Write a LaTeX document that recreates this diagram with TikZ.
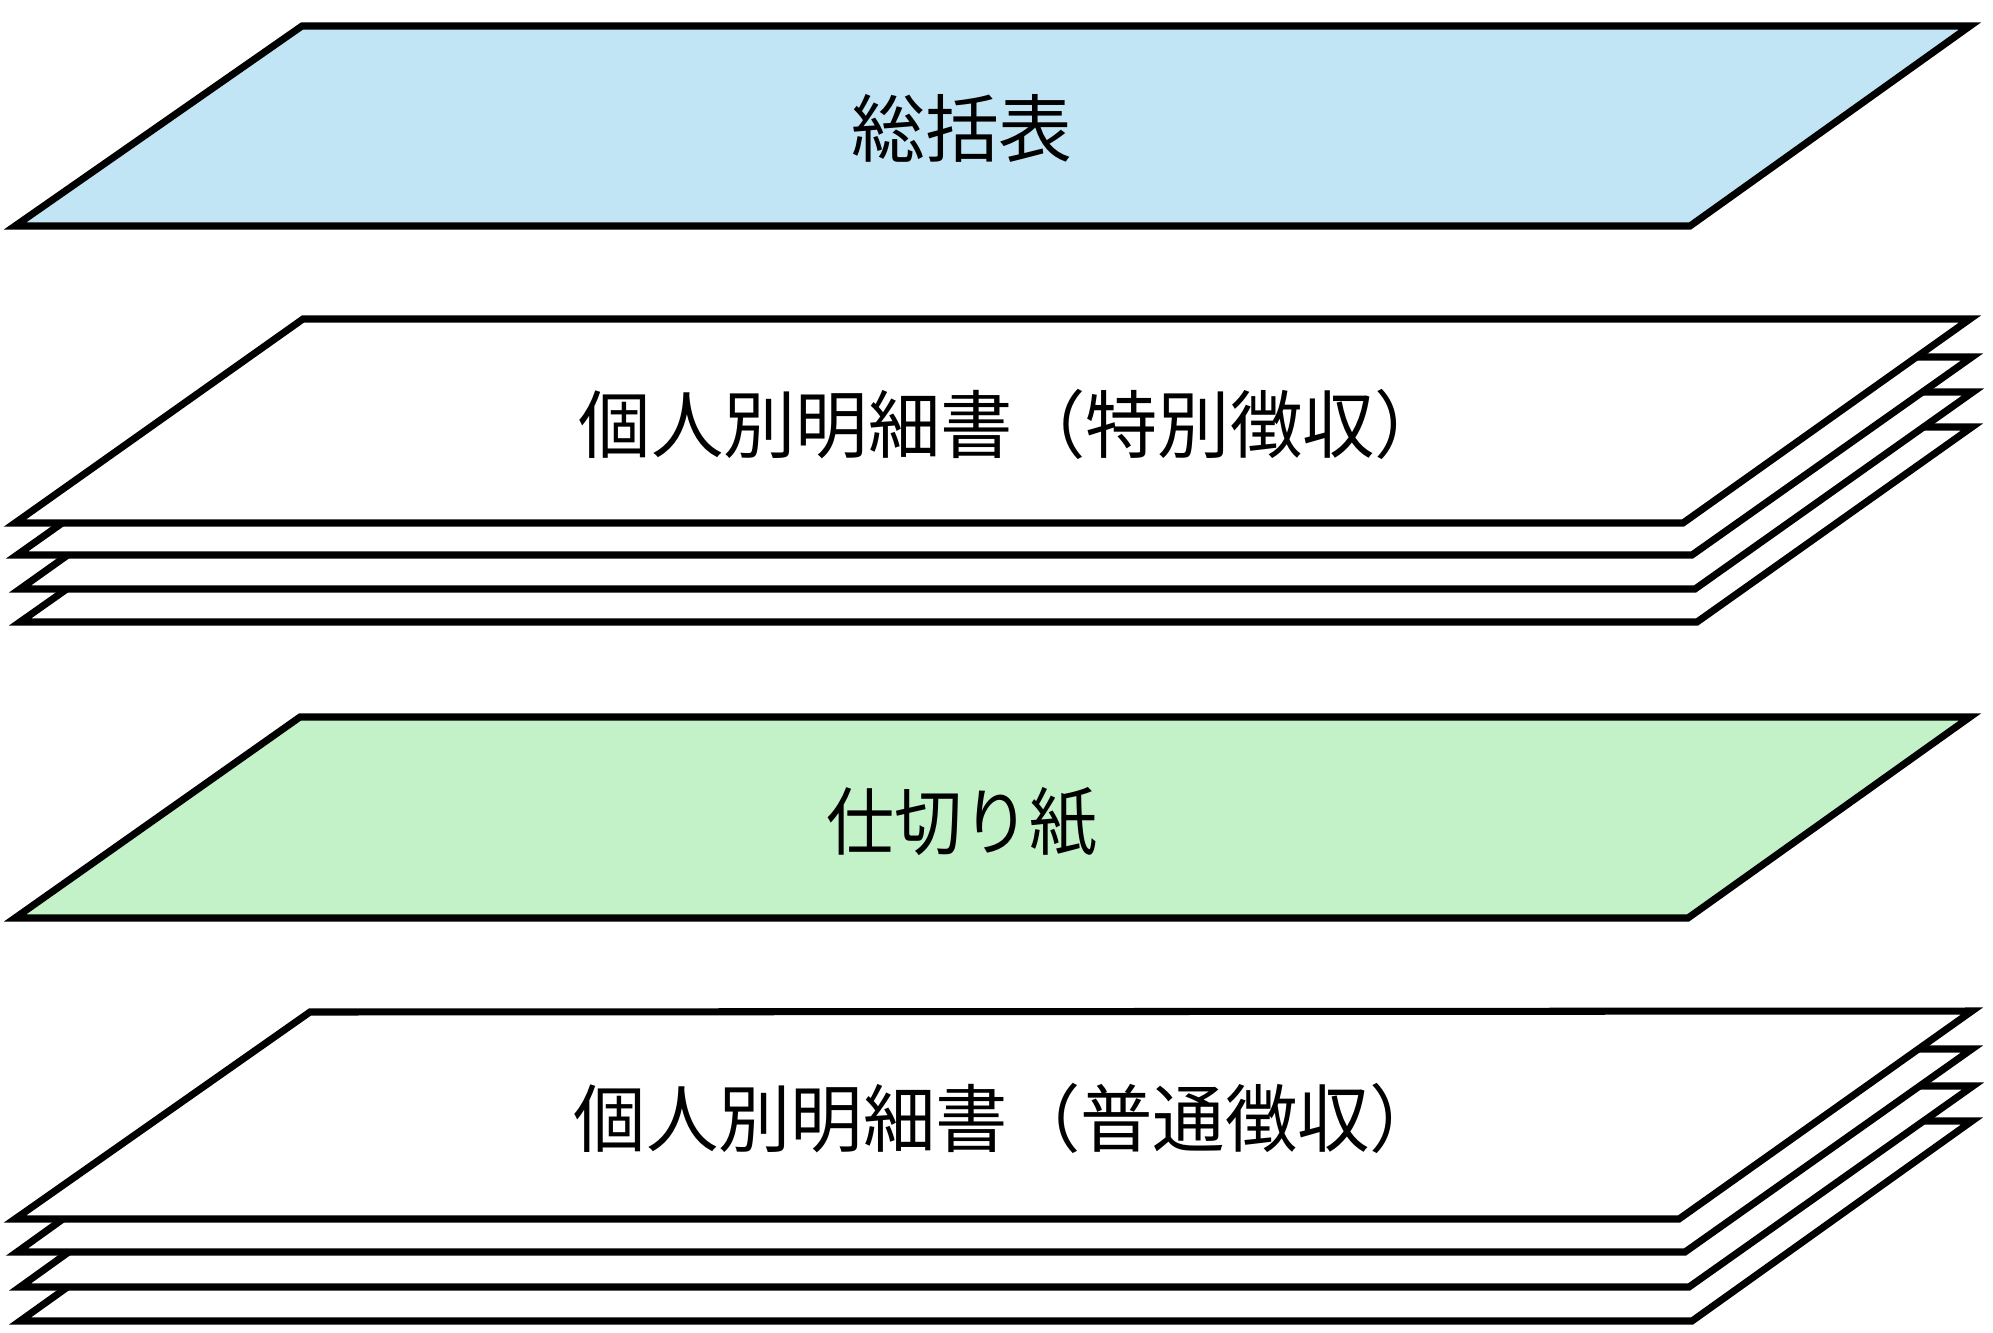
\documentclass[tikz,border=0pt]{standalone}
\usepackage{fontspec}
\newfontfamily\jp{Noto Sans CJK JP}
\definecolor{sheetblue}{RGB}{194,229,245}
\definecolor{sheetgreen}{RGB}{195,241,200}
\tikzset{
  sheet/.style={draw=black, line width=2pt, fill=white},
  label/.style={font=\jp\fontsize{21pt}{25pt}\selectfont, inner sep=0pt}
}
\begin{document}
\begin{tikzpicture}[x=0.01cm, y=-0.01cm]
    \useasboundingbox (0,0) rectangle (1993,1333);
    % summary sheet
    \draw[sheet, fill=sheetblue] (15,226) -- (1690,226) -- (1970,26) -- (302,26) -- cycle;
    \node[label] (soukatsu) at (962,128) {総括表};
    % special collection stack (back to front)
    \draw[sheet] (20,622) -- (1697,622) -- (1972,427) -- (297,427) -- cycle;
    \draw[sheet] (20,589) -- (1695,589) -- (1973,392) -- (297,392) -- cycle;
    \draw[sheet] (17,555) -- (1692,555) -- (1972,357) -- (297,357) -- cycle;
    \draw[sheet] (15,523) -- (1683,523) -- (1970,319) -- (303,319) -- cycle;
    \node[label, xscale=0.98] (tokubetsu) at (1013,424) {個人別明細書（特別徴収）};
    % divider
    \draw[sheet, fill=sheetgreen] (15,918) -- (1688,918) -- (1970,717) -- (300,717) -- cycle;
    \node[label, xscale=0.92] (shikiri) at (962,822) {仕切り紙};
    % ordinary collection stack (back to front)
    \draw[sheet] (20,1321) -- (1692,1321) -- (1972,1121) -- (300,1121) -- cycle;
    \draw[sheet] (20,1287) -- (1689,1287) -- (1973,1086) -- (300,1086) -- cycle;
    \draw[sheet] (17,1252) -- (1685,1252) -- (1972,1049) -- (300,1049) -- cycle;
    \draw[sheet] (15,1219) -- (1679,1219) -- (1972,1011) -- (310,1012) -- cycle;
    \node[label, xscale=0.98] (futsuu) at (1008,1118) {個人別明細書（普通徴収）};
\end{tikzpicture}
\end{document}
